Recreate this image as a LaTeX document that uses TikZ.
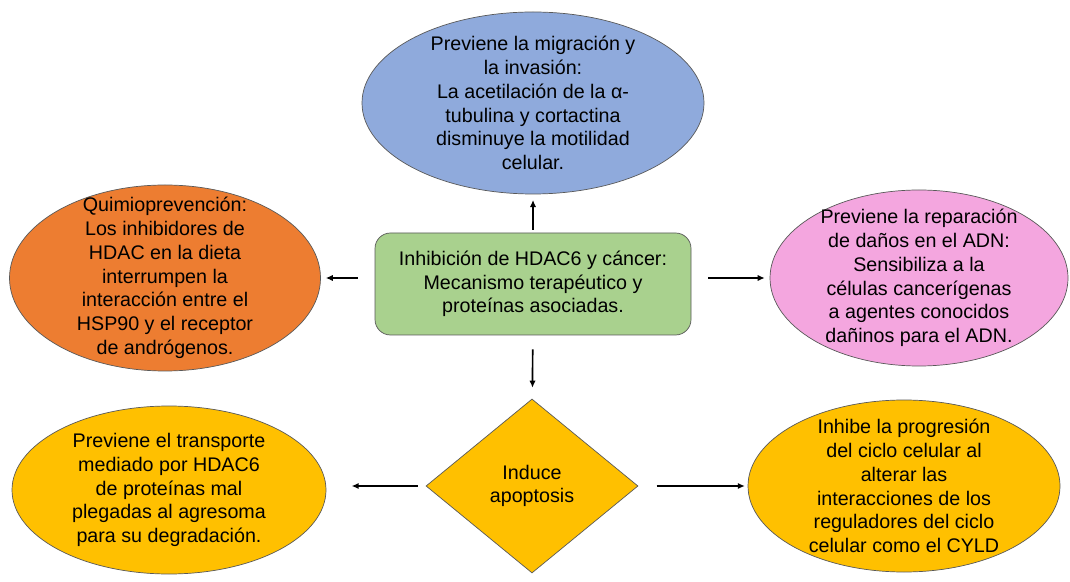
\documentclass[tikz,border=0pt]{standalone}
\usepackage{fontspec}
\setmainfont{Liberation Sans}
\usetikzlibrary{shapes.geometric, arrows.meta}

\definecolor{azul}{HTML}{8FAADC}
\definecolor{naranja}{HTML}{ED7D31}
\definecolor{verde}{HTML}{A9D18E}
\definecolor{rosa}{HTML}{F4A6DF}
\definecolor{oro}{HTML}{FFC000}

\begin{document}
\begin{tikzpicture}[x=0.025cm, y=-0.025cm]
  \tikzset{
    txt/.style={align=center, font=\fontsize{14}{16.9}\selectfont, inner sep=0pt},
    blob/.style={ellipse, draw=black!65, line width=0.5pt, inner sep=0pt},
    caja/.style={rectangle, rounded corners=11pt, draw=black!65, line width=0.5pt, fill=verde,
      minimum width=316*0.025cm, minimum height=102*0.025cm, txt},
    rombo/.style={diamond, draw=black!65, line width=0.5pt, fill=oro, inner sep=0pt,
      minimum width=212*0.025cm, minimum height=174*0.025cm, txt},
    flecha/.style={-{Latex[length=5pt, width=4.5pt]}, line width=1.2pt},
  }

  \useasboundingbox (0,0) rectangle (1070,582);

  % nodo central
  \node[caja] (hdac) at (533,284) {Inhibición de HDAC6 y cáncer:\\Mecanismo terapéutico y\\proteínas asociadas.};

  % alrededor
  \node[blob, fill=azul, minimum width=342*0.025cm, minimum height=182*0.025cm,
    label={[txt]center:Previene la migración y\\la invasión:\\La acetilación de la α-\\tubulina y cortactina\\disminuye la motilidad\\celular.}]
    (mig) at (533,103) {};
  \node[blob, fill=naranja, minimum width=311*0.025cm, minimum height=186*0.025cm,
    label={[txt]center:Quimioprevención:\\Los inhibidores de\\HDAC en la dieta\\interrumpen la\\interacción entre el\\HSP90 y el receptor\\de andrógenos.}]
    (quim) at (165,278) {};
  \node[blob, fill=rosa, minimum width=298*0.025cm, minimum height=176*0.025cm,
    label={[txt]center:Previene la reparación\\de daños en el ADN:\\Sensibiliza a la\\células cancerígenas\\a agentes conocidos\\dañinos para el ADN.}]
    (adn) at (919,278) {};

  \node[rombo] (apop) at (532,486) {Induce\\apoptosis};

  \node[blob, fill=oro, minimum width=314*0.025cm, minimum height=168*0.025cm,
    label={[txt]center:Previene el transporte\\mediado por HDAC6\\de proteínas mal\\plegadas al agresoma\\para su degradación.}]
    (trans) at (169,490) {};
  \node[blob, fill=oro, minimum width=312*0.025cm, minimum height=172*0.025cm,
    label={[txt]center:Inhibe la progresión\\del ciclo celular al\\alterar las\\interacciones de los\\reguladores del ciclo\\celular como el CYLD}]
    (ciclo) at (904,486) {};

  % flechas
  \draw[flecha, shorten <=2pt, shorten >=4pt] (hdac) -- (mig);
  \draw[flecha, shorten <=12pt, shorten >=3.5pt] (hdac.west |- quim) -- (quim);
  \draw[flecha, shorten <=12pt, shorten >=3.5pt] (hdac.east |- adn) -- (adn);
  \draw[flecha, shorten <=10pt, shorten >=8pt] (hdac) -- (apop);
  \draw[flecha, shorten <=5.5pt, shorten >=18pt] (apop.west) -- (apop.west -| trans.east);
  \draw[flecha, shorten <=13pt, shorten >=2pt] (apop.east) -- (ciclo);
\end{tikzpicture}
\end{document}
